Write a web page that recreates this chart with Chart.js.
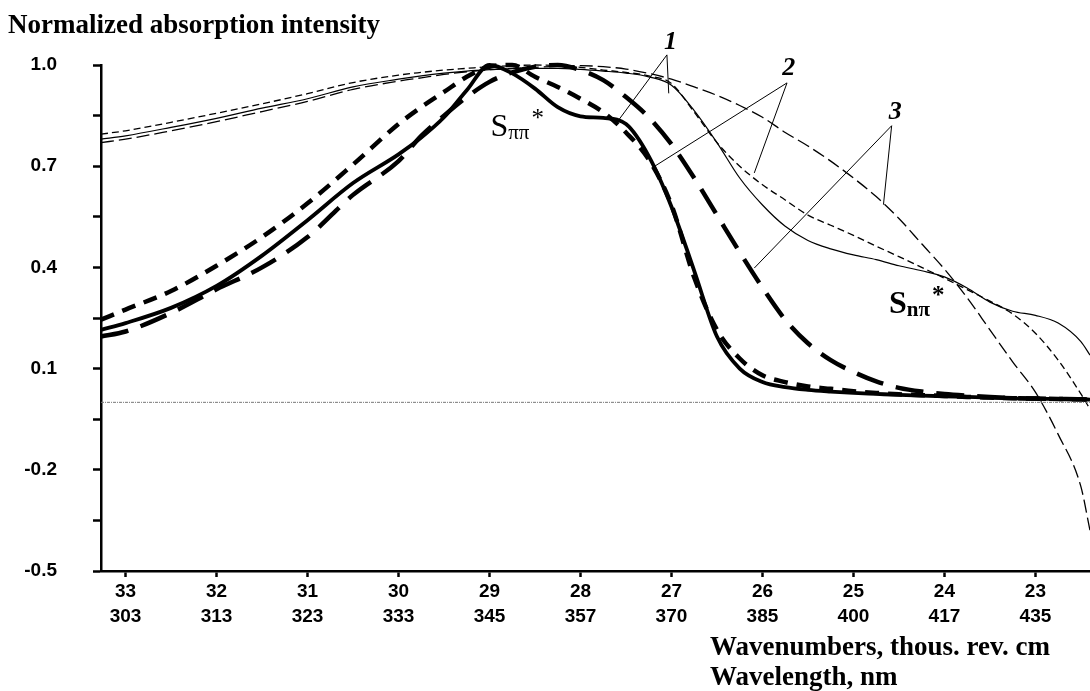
<!DOCTYPE html>
<html>
<head>
<meta charset="utf-8">
<script src="https://cdn.jsdelivr.net/npm/chart.js@4.4.0/dist/chart.umd.min.js"></script>
<style>
  html, body { margin: 0; padding: 0; background: #fff; }
  #chart { display: block; }
</style>
</head>
<body>
<canvas id="chart" width="1090" height="691"></canvas>
<script>
// Wavenumber grid, thousands of cm^-1 (axis runs right to left)
const waveNumbers = [33.27, 33, 32.5, 32, 31.5, 31, 30.5, 30, 29.75, 29.5, 29.25, 29, 28.75, 28.5, 28.25, 28,
  27.75, 27.5, 27.25, 27, 26.75, 26.5, 26.25, 26, 25.75, 25.5, 25.25, 25, 24.75, 24.5, 24.25, 24,
  23.75, 23.5, 23.25, 23, 22.75, 22.5, 22.4];

// Thick curves (S pi-pi* band)
const thickSolid = [0.215, 0.235, 0.28, 0.345, 0.435, 0.54, 0.65, 0.735, 0.785, 0.845, 0.925, 1.0, 0.975, 0.93, 0.875, 0.848,
  0.843, 0.825, 0.73, 0.58, 0.39, 0.195, 0.1, 0.06, 0.045, 0.037, 0.032, 0.028, 0.025, 0.022, 0.02, 0.018,
  0.016, 0.014, 0.012, 0.011, 0.01, 0.009, 0.008];
const thickShortDash = [0.245, 0.275, 0.33, 0.405, 0.49, 0.59, 0.705, 0.825, 0.875, 0.92, 0.965, 0.995, 1.0, 0.965, 0.935, 0.9,
  0.86, 0.8, 0.72, 0.585, 0.37, 0.215, 0.13, 0.08, 0.06, 0.047, 0.04, 0.033, 0.028, 0.024, 0.021, 0.019,
  0.016, 0.014, 0.012, 0.011, 0.01, 0.009, 0.008];
const thickLongDash = [0.195, 0.21, 0.265, 0.335, 0.40, 0.49, 0.615, 0.715, 0.79, 0.85, 0.905, 0.95, 0.978, 0.995, 1.0, 0.985,
  0.955, 0.905, 0.845, 0.765, 0.665, 0.555, 0.445, 0.34, 0.245, 0.175, 0.125, 0.09, 0.062, 0.043, 0.032, 0.025,
  0.02, 0.016, 0.013, 0.011, 0.01, 0.009, 0.008];

// Thin curves (with S n-pi* band)
const thinSolid = [0.78, 0.79, 0.815, 0.842, 0.872, 0.90, 0.935, 0.958, 0.968, 0.976, 0.982, 0.986, 0.989, 0.99, 0.99, 0.987,
  0.982, 0.976, 0.965, 0.94, 0.865, 0.77, 0.665, 0.585, 0.522, 0.48, 0.455, 0.437, 0.423, 0.405, 0.39, 0.372,
  0.339, 0.297, 0.27, 0.258, 0.235, 0.18, 0.14];
const thinShortDash = [0.795, 0.805, 0.83, 0.857, 0.885, 0.915, 0.948, 0.97, 0.978, 0.985, 0.99, 0.995, 0.998, 1.0, 0.998, 0.993,
  0.985, 0.978, 0.968, 0.945, 0.86, 0.77, 0.7, 0.645, 0.6, 0.555, 0.525, 0.495, 0.463, 0.432, 0.4, 0.368,
  0.334, 0.30, 0.262, 0.205, 0.125, 0.025, -0.02];
const thinLongDash = [0.77, 0.78, 0.805, 0.832, 0.862, 0.892, 0.928, 0.952, 0.962, 0.972, 0.98, 0.986, 0.99, 0.993, 0.996, 0.998,
  0.995, 0.988, 0.975, 0.958, 0.935, 0.91, 0.88, 0.845, 0.80, 0.76, 0.715, 0.665, 0.61, 0.545, 0.47, 0.395,
  0.31, 0.215, 0.12, 0.03, -0.095, -0.25, -0.38];

const baselineX = [33.27, 22.4];
const baselineY = [0, 0];

// Axis ticks
const xTickValues = [33, 32, 31, 30, 29, 28, 27, 26, 25, 24, 23];
const wavelengthLabels = ["303", "313", "323", "333", "345", "357", "370", "385", "400", "417", "435"];
const yTickValues = [-0.5, -0.35, -0.2, -0.05, 0.1, 0.25, 0.4, 0.55, 0.7, 0.85, 1.0];
const yTickLabels = ["-0.5", "", "-0.2", "", "0.1", "", "0.4", "", "0.7", "", "1.0"];

// Curve numbers with leader lines (data coordinates)
const curveNumbers = ["1", "2", "3"];
const numberPositions = [[27.01, 1.068], [25.71, 0.99], [24.54, 0.861]];
const leaderApex = [[27.05, 1.03], [25.73, 0.947], [24.58, 0.82]];
const leaderEnds = [
  [[27.58, 0.837], [27.03, 0.916]],
  [[27.19, 0.699], [26.09, 0.68]],
  [[26.09, 0.398], [24.67, 0.586]],
];

const toPoints = (ys) => ys.map((y, i) => ({ x: waveNumbers[i], y: y }));

function lineSet(label, ys, width, dash) {
  return {
    label: label,
    data: toPoints(ys),
    borderColor: "#000",
    borderWidth: width,
    borderDash: dash,
    pointRadius: 0,
    cubicInterpolationMode: "monotone",
    fill: false,
    clip: false,
  };
}

// Texts, leader lines and band labels
const annotationPlugin = {
  id: "annotations",
  afterDatasetsDraw(chart) {
    const ctx = chart.ctx;
    const xs = chart.scales.x;
    const ys = chart.scales.y;
    const px = (p) => [xs.getPixelForValue(p[0]), ys.getPixelForValue(p[1])];

    ctx.save();
    ctx.fillStyle = "#000";
    ctx.strokeStyle = "#000";

    // leader lines
    ctx.lineWidth = 1;
    leaderApex.forEach((apex, i) => {
      const a = px(apex);
      leaderEnds[i].forEach((end) => {
        const e = px(end);
        ctx.beginPath();
        ctx.moveTo(a[0], a[1]);
        ctx.lineTo(e[0], e[1]);
        ctx.stroke();
      });
    });

    // curve numbers
    ctx.font = "italic bold 26px 'Liberation Serif'";
    ctx.textAlign = "center";
    ctx.textBaseline = "middle";
    curveNumbers.forEach((t, i) => {
      const p = px(numberPositions[i]);
      ctx.fillText(t, p[0], p[1]);
    });

    // band labels
    ctx.textAlign = "left";
    ctx.textBaseline = "alphabetic";
    drawBand(ctx, px([28.99, 0.79]), "", "ππ", false);
    drawBand(ctx, px([24.61, 0.266]), "bold ", "nπ", true);

    // axis titles
    ctx.font = "bold 27px 'Liberation Serif'";
    ctx.fillText("Normalized absorption intensity", 8, 33);
    ctx.fillText("Wavenumbers, thous. rev. cm", 710, 655);
    ctx.fillText("Wavelength, nm", 710, 685);
    ctx.restore();
  },
};

function drawBand(ctx, p, weight, sub, bold) {
  let x = p[0];
  const y = p[1];
  ctx.font = weight + "32px 'Liberation Serif'";
  ctx.fillText("S", x, y);
  x += ctx.measureText("S").width;
  ctx.font = weight + "21px 'Liberation Serif'";
  ctx.fillText(sub, x, y + 3);
  x += ctx.measureText(sub).width + 2;
  ctx.font = (bold ? "bold " : "") + "25px 'Liberation Serif'";
  ctx.fillText("*", x, y - 10);
}

const tickFont = { family: "'Liberation Sans'", size: 19, weight: "bold", lineHeight: 1.28 };

new Chart(document.getElementById("chart"), {
  type: "line",
  data: {
    datasets: [
      {
        label: "zero",
        data: baselineX.map((x, i) => ({ x: x, y: baselineY[i] })),
        borderColor: "#777",
        borderWidth: 1,
        borderDash: [3, 1, 1, 1],
        pointRadius: 0,
      },
      lineSet("1 thin", thinSolid, 1.2, []),
      lineSet("2 thin", thinShortDash, 1.3, [7, 4]),
      lineSet("3 thin", thinLongDash, 1.3, [13, 5]),
      lineSet("1", thickSolid, 3.8, []),
      lineSet("2", thickShortDash, 4.5, [14, 9]),
      lineSet("3", thickLongDash, 4.5, [28, 13]),
    ],
  },
  options: {
    responsive: false,
    animation: false,
    devicePixelRatio: 1,
    layout: { padding: { left: 8, top: 65, right: 0, bottom: 0 } },
    plugins: {
      legend: { display: false },
      tooltip: { enabled: false },
    },
    scales: {
      x: {
        type: "linear",
        reverse: true,
        min: 22.4,
        max: 33.27,
        afterBuildTicks: (scale) => {
          scale.ticks = xTickValues.map((v) => ({ value: v }));
        },
        afterFit: (scale) => {
          scale.height = 120;
        },
        ticks: {
          autoSkip: false,
          maxRotation: 0,
          color: "#000",
          font: tickFont,
          padding: 3,
          callback: (value) => [String(value), wavelengthLabels[xTickValues.indexOf(value)]],
        },
        grid: { drawOnChartArea: false, tickLength: 6, tickColor: "#000", tickWidth: 2.5 },
        border: { color: "#000", width: 2.5 },
      },
      y: {
        min: -0.5,
        max: 1.0,
        afterBuildTicks: (scale) => {
          scale.ticks = yTickValues.map((v) => ({ value: v }));
        },
        afterFit: (scale) => {
          scale.width = 93;
        },
        ticks: {
          color: "#000",
          font: tickFont,
          padding: 36,
          callback: (value, index) => yTickLabels[index],
        },
        grid: { drawOnChartArea: false, tickLength: 8, tickColor: "#000", tickWidth: 2.5 },
        border: { color: "#000", width: 2.5 },
      },
    },
  },
  plugins: [annotationPlugin],
});
</script>
</body>
</html>
